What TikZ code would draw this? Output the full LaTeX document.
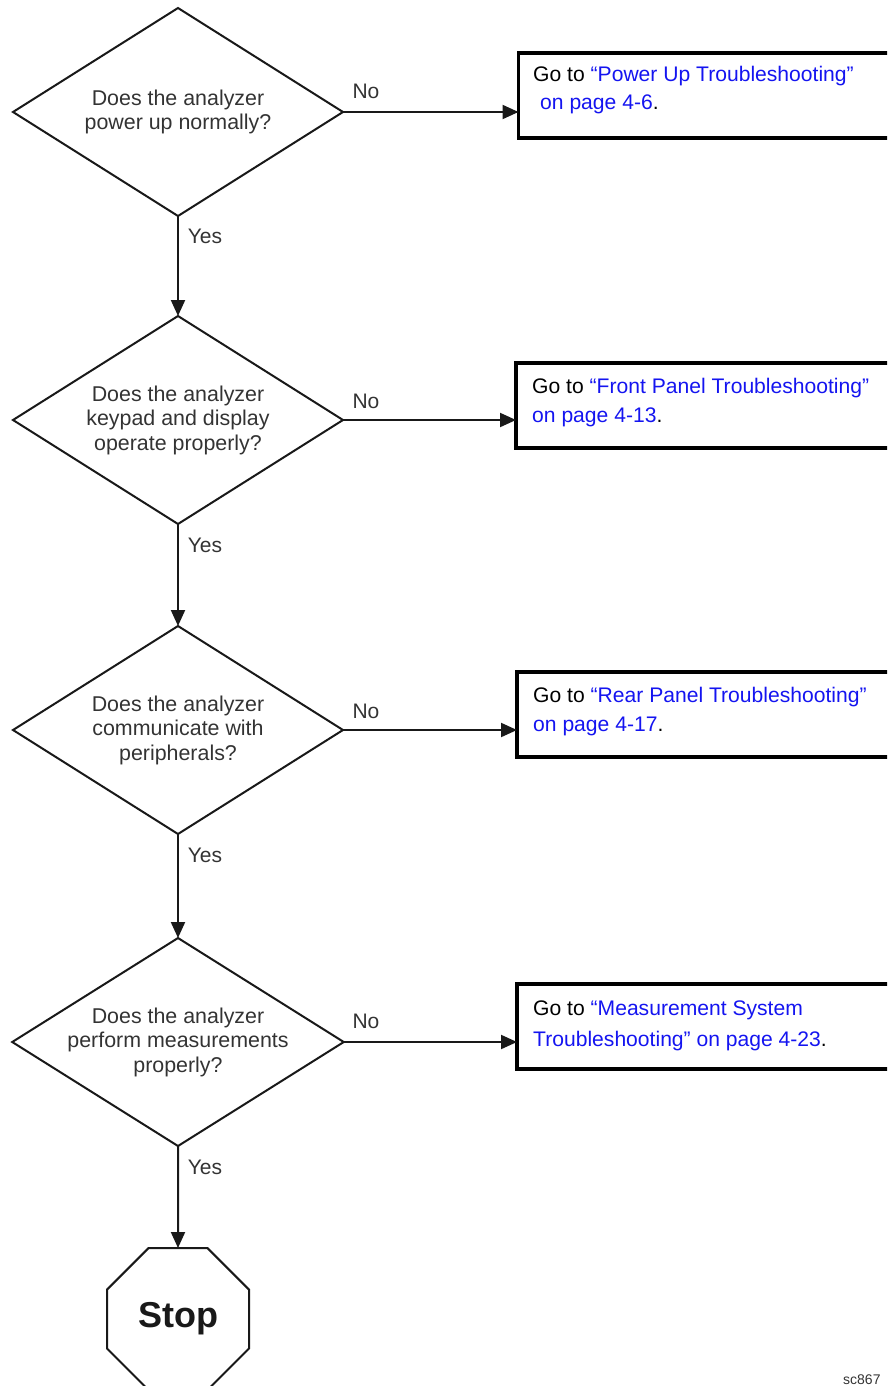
\documentclass[tikz,border=0pt]{standalone}
\usepackage{fontspec}
\setmainfont{Liberation Sans}
\usetikzlibrary{shapes.geometric,arrows.meta}
\definecolor{linkblue}{RGB}{20,20,240}
\definecolor{qgray}{RGB}{51,51,51}
\definecolor{edge}{RGB}{25,25,25}
\begin{document}
\begin{tikzpicture}[x=1pt,y=-1pt,
  question/.style={diamond, draw=edge, line width=2pt, minimum width=330pt, minimum height=208pt,
    inner sep=0pt, outer sep=0pt, aspect=1.6, align=center, text=qgray,
    font=\fontsize{21.4}{24.5}\selectfont},
  gobox/.style={draw=black, line width=3.5pt, minimum width=440pt, minimum height=85pt,
    anchor=north west, inner sep=0pt, outer sep=0pt},
  goline/.style={anchor=base west, inner sep=0pt, font=\fontsize{21.1}{24}\selectfont},
  flow/.style={line width=2pt, draw=edge, -{Triangle[length=16pt,width=14pt]}},
  lbl/.style={font=\fontsize{21}{24}\selectfont, text=qgray, inner sep=0pt},
  stopsign/.style={regular polygon, regular polygon sides=8, minimum size=153.7pt, draw=edge,
    line width=2pt, inner sep=0pt, outer sep=0pt, text=edge,
    font=\bfseries\fontsize{36}{40}\selectfont},
]
\useasboundingbox (0,0) rectangle (887,1386);
\clip (0,0) rectangle (887,1386);

% decisions
\node[question] (d1) at (178,112) {Does the analyzer\\power up normally?};
\node[question] (d2) at (178,420) {Does the analyzer\\keypad and display\\operate properly?};
\node[question] (d3) at (178,730) {Does the analyzer\\communicate with\\peripherals?};
\node[question] (d4) at (178,1042) {Does the analyzer\\perform measurements\\properly?};
\node[stopsign] (stop) at (178,1319) {Stop};

% boxes
\node[gobox] (b1) at (518.5,53) {};
\node[gobox] (b2) at (516,363) {};
\node[gobox] (b3) at (517,672) {};
\node[gobox] (b4) at (517,984) {};

% box texts
\node[goline] (b1a) at (533,82) {Go to \textcolor{linkblue}{“Power Up Troubleshooting”}};
\node[goline] (b1b) at (540,110) {\textcolor{linkblue}{on page 4-6}.};
\node[goline] (b2a) at (532,393) {Go to \textcolor{linkblue}{“Front Panel Troubleshooting”}};
\node[goline] (b2b) at (532,422) {\textcolor{linkblue}{on page 4-13}.};
\node[goline] (b3a) at (533,702) {Go to \textcolor{linkblue}{“Rear Panel Troubleshooting”}};
\node[goline] (b3b) at (533,731) {\textcolor{linkblue}{on page 4-17}.};
\node[goline] (b4a) at (533,1015) {Go to \textcolor{linkblue}{“Measurement System}};
\node[goline] (b4b) at (533,1046) {\textcolor{linkblue}{Troubleshooting” on page 4-23}.};

% connectors
\draw[flow] (d1.south) -- (d2.north);
\draw[flow] (d2.south) -- (d3.north);
\draw[flow] (d3.south) -- (d4.north);
\draw[flow] (d4.south) -- (stop.north);
\draw[flow] (d1.east) -- (d1.east -| b1.west);
\draw[flow] (d2.east) -- (d2.east -| b2.west);
\draw[flow] (d3.east) -- (d3.east -| b3.west);
\draw[flow] (d4.east) -- (d4.east -| b4.west);

% labels
\node[lbl] (y1) at (205,236) {Yes};
\node[lbl] (y2) at (205,545) {Yes};
\node[lbl] (y3) at (205,855) {Yes};
\node[lbl] (y4) at (205,1167) {Yes};
\node[lbl] (n1) at (366,91) {No};
\node[lbl] (n2) at (366,401) {No};
\node[lbl] (n3) at (366,711) {No};
\node[lbl] (n4) at (366,1021) {No};

\node[anchor=base west, inner sep=0pt, text=qgray, font=\fontsize{14}{16}\selectfont] (code) at (843,1384) {sc867};
\end{tikzpicture}
\end{document}
